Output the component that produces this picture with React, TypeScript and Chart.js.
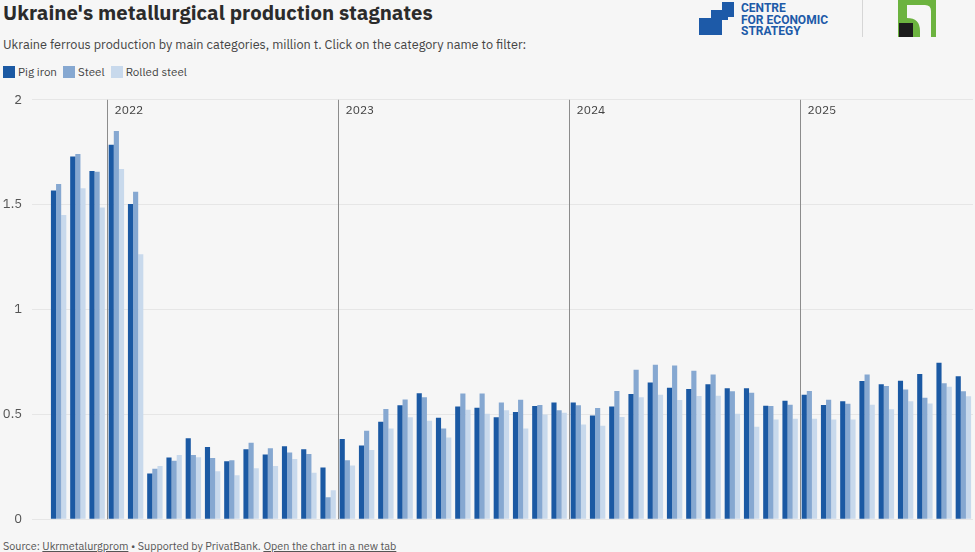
import React, { useEffect, useRef } from "react";
import { Chart, registerables } from "chart.js";

Chart.register(...registerables);

const months: string[] = [
  "Oct 2021", "Nov 2021", "Dec 2021",
  "Jan 2022", "Feb 2022", "Mar 2022", "Apr 2022", "May 2022", "Jun 2022", "Jul 2022", "Aug 2022", "Sep 2022", "Oct 2022", "Nov 2022", "Dec 2022",
  "Jan 2023", "Feb 2023", "Mar 2023", "Apr 2023", "May 2023", "Jun 2023", "Jul 2023", "Aug 2023", "Sep 2023", "Oct 2023", "Nov 2023", "Dec 2023",
  "Jan 2024", "Feb 2024", "Mar 2024", "Apr 2024", "May 2024", "Jun 2024", "Jul 2024", "Aug 2024", "Sep 2024", "Oct 2024", "Nov 2024", "Dec 2024",
  "Jan 2025", "Feb 2025", "Mar 2025", "Apr 2025", "May 2025", "Jun 2025", "Jul 2025", "Aug 2025", "Sep 2025",
];

const pigIron: number[] = [
  1.567, 1.730, 1.660,
  1.786, 1.503, 0.218, 0.294, 0.386, 0.344, 0.276, 0.333, 0.308, 0.348, 0.333, 0.246,
  0.382, 0.352, 0.465, 0.543, 0.601, 0.484, 0.538, 0.532, 0.486, 0.511, 0.540, 0.556,
  0.556, 0.494, 0.538, 0.597, 0.652, 0.627, 0.621, 0.643, 0.624, 0.624, 0.541, 0.565,
  0.594, 0.544, 0.563, 0.659, 0.644, 0.660, 0.692, 0.746, 0.682,
];

const steel: number[] = [
  1.598, 1.741, 1.657,
  1.851, 1.562, 0.241, 0.279, 0.306, 0.292, 0.281, 0.365, 0.338, 0.318, 0.311, 0.105,
  0.281, 0.422, 0.525, 0.571, 0.582, 0.433, 0.600, 0.600, 0.557, 0.570, 0.544, 0.519,
  0.543, 0.530, 0.611, 0.713, 0.737, 0.733, 0.708, 0.690, 0.610, 0.603, 0.540, 0.546,
  0.611, 0.570, 0.551, 0.690, 0.635, 0.619, 0.579, 0.648, 0.610,
];

const rolledSteel: number[] = [
  1.451, 1.578, 1.487,
  1.670, 1.263, 0.254, 0.306, 0.295, 0.229, 0.210, 0.243, 0.254, 0.287, 0.222, 0.138,
  0.256, 0.330, 0.433, 0.486, 0.470, 0.390, 0.522, 0.503, 0.519, 0.433, 0.499, 0.508,
  0.452, 0.446, 0.487, 0.581, 0.594, 0.568, 0.587, 0.589, 0.503, 0.441, 0.476, 0.479,
  0.479, 0.476, 0.476, 0.546, 0.524, 0.563, 0.552, 0.632, 0.586,
];

const seriesNames: string[] = ["Pig iron", "Steel", "Rolled steel"];
const seriesColors: string[] = ["#1b59a3", "#86a8d1", "#c8d9ec"];

const yearMarkers: string[] = ["2022", "2023", "2024", "2025"];
const yTickLabels: string[] = ["0", "0.5", "1", "1.5", "2"];

const FONT = "'IBM Plex Sans', Roboto, 'Noto Sans', sans-serif";

const yearLinesPlugin = {
  id: "yearLines",
  beforeDatasetsDraw(chart: any) {
    const { ctx, chartArea, scales } = chart;
    const x = scales.x;
    ctx.save();
    yearMarkers.forEach((yr) => {
      const idx = months.indexOf("Jan " + yr);
      if (idx <= 0) return;
      const px = Math.round((x.getPixelForValue(idx - 1) + x.getPixelForValue(idx)) / 2) + 0.5;
      ctx.strokeStyle = "#8c8c8c";
      ctx.lineWidth = 1;
      ctx.beginPath();
      ctx.moveTo(px, chartArea.top);
      ctx.lineTo(px, chartArea.bottom);
      ctx.stroke();
      ctx.fillStyle = "#444";
      ctx.font = "12px " + FONT;
      ctx.textBaseline = "middle";
      ctx.textAlign = "left";
      ctx.fillText(yr, px + 7, chartArea.top + 11);
    });
    ctx.restore();
  },
};

function BarChart() {
  const ref = useRef<HTMLCanvasElement | null>(null);
  useEffect(() => {
    if (!ref.current) return;
    const chart = new Chart(ref.current, {
      type: "bar",
      data: {
        labels: months,
        datasets: [pigIron, steel, rolledSteel].map((d, i) => ({
          label: seriesNames[i],
          data: d,
          backgroundColor: seriesColors[i],
          borderWidth: 0,
          categoryPercentage: 0.8,
          barPercentage: 1.0,
        })),
      },
      options: {
        animation: false,
        responsive: false,
        maintainAspectRatio: false,
        layout: { padding: { top: 0, bottom: 0, right: 2, left: 0 } },
        plugins: { legend: { display: false }, tooltip: { enabled: false } },
        scales: {
          x: { display: false, offset: true, grid: { display: false } },
          y: {
            min: 0,
            max: 2,
            border: { display: false },
            grid: { color: "#e6e6e6", tickLength: 17, drawTicks: true },
            afterFit(scale: any) {
              scale.width = 49;
            },
            ticks: {
              stepSize: 0.5,
              padding: 10,
              color: "#555",
              font: { size: 13, family: FONT },
              callback: (_v: any, i: number) => yTickLabels[i],
            },
          },
        },
      },
      plugins: [yearLinesPlugin],
    });
    return () => chart.destroy();
  }, []);
  return <canvas ref={ref} width={975} height={455} style={{ display: "block" }} />;
}

function CesLogo() {
  return (
    <svg width={150} height={40} style={{ position: "absolute", left: 697, top: 0 }}>
      <polygon
        points="2,35 2,18 14,18 14,10 25,10 25,2 37,2 37,17 31,17 31,20 25,20 25,35"
        fill="#1d5aa8"
      />
      <text x={44} y={12} fill="#1d5aa8" fontSize={12} fontWeight={700} fontFamily="Roboto, sans-serif">CENTRE</text>
      <text x={44} y={23.5} fill="#1d5aa8" fontSize={12} fontWeight={700} fontFamily="Roboto, sans-serif">FOR ECONOMIC</text>
      <text x={44} y={35} fill="#1d5aa8" fontSize={12} fontWeight={700} fontFamily="Roboto, sans-serif">STRATEGY</text>
    </svg>
  );
}

function PrivatLogo() {
  return (
    <svg width={40} height={40} style={{ position: "absolute", left: 898, top: 0 }}>
      <rect x={0} y={0} width={38} height={37} fill="#6cb33f" />
      <path d="M9,5 L27,5 Q33,5 33,11 L33,37 L22,37 L22,31 Q22,18 9,18 Z" fill="#f6f6f6" />
      <rect x={1} y={23} width={14} height={14} fill="#1c1c1c" />
    </svg>
  );
}

export default function App() {
  const legendItem = (i: number) => (
    <span key={i} style={{ display: "inline-flex", alignItems: "center", marginRight: 6 }}>
      <span style={{ width: 12, height: 12, background: seriesColors[i], display: "inline-block", marginRight: 3 }} />
      <span>{seriesNames[i]}</span>
    </span>
  );
  return (
    <div
      style={{
        position: "fixed",
        left: 0,
        top: 0,
        width: 975,
        height: 552,
        background: "#f6f6f6",
        overflow: "hidden",
        fontFamily: FONT,
      }}
    >
      <div style={{ position: "absolute", left: 3, top: -1, fontSize: 20.4, fontWeight: 700, color: "#2b2b2b", whiteSpace: "nowrap" }}>
        Ukraine's metallurgical production stagnates
      </div>
      <div style={{ position: "absolute", left: 3, top: 36, fontSize: 12.7, color: "#444", whiteSpace: "nowrap" }}>
        Ukraine ferrous production by main categories, million t. Click on the category name to filter:
      </div>
      <div style={{ position: "absolute", left: 3, top: 64, fontSize: 11.6, color: "#444", display: "flex", whiteSpace: "nowrap" }}>
        {seriesNames.map((_, i) => legendItem(i))}
      </div>
      <CesLogo />
      <div style={{ position: "absolute", left: 862, top: 0, width: 1, height: 37, background: "#d6d6d6" }} />
      <PrivatLogo />
      <div style={{ position: "absolute", left: 0, top: 82 }}>
        <BarChart />
      </div>
      <div style={{ position: "absolute", left: 3, top: 539, fontSize: 10.8, color: "#555", whiteSpace: "nowrap" }}>
        Source: <span style={{ textDecoration: "underline" }}>Ukrmetalurgprom</span> • Supported by PrivatBank.{" "}
        <span style={{ textDecoration: "underline" }}>Open the chart in a new tab</span>
      </div>
    </div>
  );
}
